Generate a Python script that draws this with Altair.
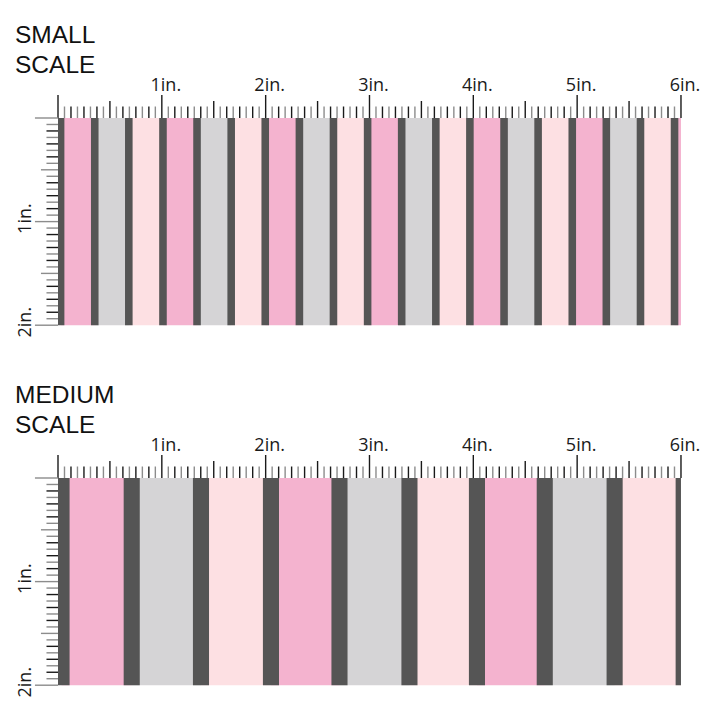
import altair as alt
import pandas as pd

# ---------------- data (inches) ----------------
PATTERN_W = 6.0
PATTERN_H = 2.0

stripe_cycle = ["pink", "gray", "light"]

small_dark_centers = [0.025, 0.354, 0.682, 1.011, 1.339, 1.668, 1.996, 2.325,
                      2.653, 2.982, 3.310, 3.639, 3.967, 4.296, 4.624, 4.953,
                      5.281, 5.610, 5.938]
small_dark_width = 0.073

medium_dark_centers = [0.034, 0.710, 1.377, 2.051, 2.711, 3.385, 4.035,
                       4.688, 5.361, 6.026]
medium_dark_width = 0.155

top_label_text = ["1in.", "2in.", "3in.", "4in.", "5in.", "6in."]
top_label_pos = [1, 2, 3, 4, 5, 6]
side_label_text = ["1in.", "2in."]
side_label_pos = [1, 2]

small_title = ["SMALL", "SCALE"]
medium_title = ["MEDIUM", "SCALE"]

# ---------------- styles ----------------
COLORS = {"pink": "#F4B3CF", "gray": "#D5D4D6", "light": "#FDE0E3", "dark": "#555555"}
PX_X = 103.83
PX_Y = 103.6
PANEL_W = 704
TOP_OFF = 110  # px from panel top to pattern top
LEFT_OFF = 50  # px from panel left to pattern left

tick_len = {"inch": 23 / PX_Y, "half": 17 / PX_Y, "eighth": 11.5 / PX_Y, "sixteenth": 11.5 / PX_Y}
kinds = ["inch", "half", "eighth", "sixteenth"]
top_tick_colors = ["#1a1a1a", "#1a1a1a", "#1a1a1a", "#8c8c8c"]
side_tick_colors = ["#8c8c8c", "#8c8c8c", "#1a1a1a", "#8c8c8c"]
tick_widths = [1.4, 1.4, 1.4, 2.2]


def tick_kind(i):
    if i % 16 == 0:
        return "inch"
    if i % 8 == 0:
        return "half"
    if i % 2 == 0:
        return "eighth"
    return "sixteenth"


def stripes_table(centers, width):
    rows = []
    for i in range(len(centers)):
        left = centers[i]
        right = centers[i + 1] if i + 1 < len(centers) else PATTERN_W
        rows.append({"x": max(0.0, left), "x2": min(PATTERN_W, right), "c": stripe_cycle[i % 3], "z": 0})
    for c in centers:
        rows.append({"x": max(0.0, c - width / 2), "x2": min(PATTERN_W, c + width / 2), "c": "dark", "z": 1})
    df = pd.DataFrame(rows)
    df = df[df.x2 > df.x]
    df["y"] = 0.0
    df["y2"] = PATTERN_H
    return df


top_ticks = pd.DataFrame({"pos": [i / 16 for i in range(int(PATTERN_W * 16) + 1)]})
top_ticks["kind"] = [tick_kind(i) for i in range(len(top_ticks))]
top_ticks["len"] = -top_ticks["kind"].map(tick_len)
top_ticks["zero"] = 0.0

side_ticks = pd.DataFrame({"pos": [i / 16 for i in range(int(PATTERN_H * 16) + 1)]})
side_ticks["kind"] = [tick_kind(i) for i in range(len(side_ticks))]
side_ticks["len"] = -side_ticks["kind"].map(tick_len)
side_ticks["zero"] = 0.0

top_labels = pd.DataFrame({"t": top_label_text, "pos": top_label_pos})
top_labels["x"] = top_labels["pos"] + 4 / PX_X
top_labels["y"] = -27 / PX_Y

side_labels = pd.DataFrame({"t": side_label_text, "pos": side_label_pos})
side_labels["y"] = side_labels["pos"] - 3 / PX_Y
side_labels["x"] = -27 / PX_X


def panel(centers, width, title_lines, height):
    xs = alt.Scale(domain=[-LEFT_OFF / PX_X, (PANEL_W - LEFT_OFF) / PX_X], nice=False, zero=False)
    ys = alt.Scale(domain=[-TOP_OFF / PX_Y, (height - TOP_OFF) / PX_Y], nice=False, zero=False, reverse=True)

    def X(f):
        return alt.X(f, type="quantitative", scale=xs, axis=None)

    def Y(f):
        return alt.Y(f, type="quantitative", scale=ys, axis=None)

    st = stripes_table(centers, width)
    cscale = alt.Scale(domain=list(COLORS.keys()), range=list(COLORS.values()))

    base_rect = alt.Chart(st[st.z == 0]).mark_rect().encode(
        x=X("x"), x2="x2", y=Y("y"), y2="y2",
        color=alt.Color("c:N", scale=cscale, legend=None))
    dark_rect = alt.Chart(st[st.z == 1]).mark_rect().encode(
        x=X("x"), x2="x2", y=Y("y"), y2="y2",
        color=alt.Color("c:N", scale=cscale, legend=None))

    tt = alt.Chart(top_ticks).mark_rule().encode(
        x=X("pos"), y=Y("len"), y2="zero",
        color=alt.Color("kind:N", scale=alt.Scale(domain=kinds, range=top_tick_colors), legend=None),
        strokeWidth=alt.StrokeWidth("kind:N", scale=alt.Scale(domain=kinds, range=tick_widths), legend=None))
    stk = alt.Chart(side_ticks).mark_rule().encode(
        y=Y("pos"), x=X("len"), x2="zero",
        color=alt.Color("kind:N", scale=alt.Scale(domain=kinds, range=side_tick_colors), legend=None),
        strokeWidth=alt.StrokeWidth("kind:N", scale=alt.Scale(domain=kinds, range=tick_widths), legend=None))

    tl = alt.Chart(top_labels).mark_text(
        font="Open Sans", fontSize=18, align="center", baseline="alphabetic", color="#1a1a1a"
    ).encode(x=X("x"), y=Y("y"), text="t:N")
    sl = alt.Chart(side_labels).mark_text(
        font="Open Sans", fontSize=18, align="center", baseline="alphabetic", angle=270, color="#1a1a1a"
    ).encode(x=X("x"), y=Y("y"), text="t:N")

    titles = pd.DataFrame({"t": title_lines, "y": [-75.3 / PX_Y, -45.3 / PX_Y]})
    titles["x"] = -43 / PX_X
    ttl = alt.Chart(titles).mark_text(
        font="Liberation Sans", fontSize=24.5, align="left", baseline="alphabetic", color="#111111"
    ).encode(x=X("x"), y=Y("y"), text="t:N")

    return alt.layer(base_rect, dark_rect, tt, stk, tl, sl, ttl).resolve_scale(
        color="independent", strokeWidth="independent"
    ).properties(width=PANEL_W, height=height)


small = panel(small_dark_centers, small_dark_width, small_title, 360)
medium = panel(medium_dark_centers, medium_dark_width, medium_title, 330)

chart = alt.vconcat(small, medium, spacing=0).properties(padding=0).configure_view(stroke=None)

chart.save("out.html", embed_options={"renderer": "svg", "actions": False})
